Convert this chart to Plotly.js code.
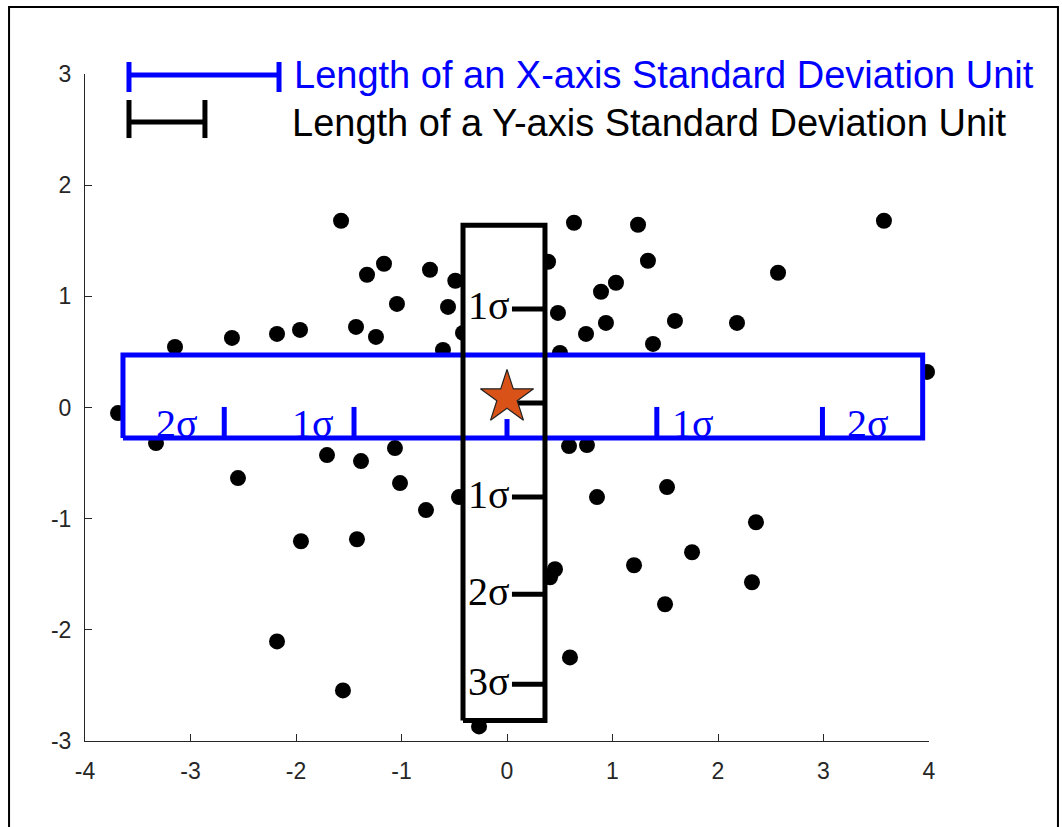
<!DOCTYPE html>
<html>
<head>
<meta charset="utf-8">
<script src="https://cdn.plot.ly/plotly-3.0.1.min.js"></script>
<style>html,body{margin:0;padding:0;background:#fff;}#chart{width:1062px;height:827px;}</style>
</head>
<body>
<div id="chart"></div>
<script>
// ---- data ----
const xVals = [-1.573, 0.635, 1.242, 3.573, 1.336, -1.166, -1.327, -0.730, 0.389, 2.569,
  1.033, 0.891, -1.043, -0.559, 0.483, 0.938, 1.592, 2.180, 0.749, -2.607,
  -2.180, -1.962, -1.431, -1.242, -0.417, 1.384, -0.607, 0.502, -3.147, 3.981,
  -3.687, -3.327, -1.062, 0.588, 0.758, -1.706, -1.384, -2.550, -1.014, 1.517,
  -0.455, 0.853, -0.768, 2.360, -1.953, -1.422, 1.754, 1.204, 0.455, 0.408,
  2.322, 1.498, -2.180, 0.597, -1.555, -0.265, -0.490];
const yVals = [1.680, 1.662, 1.644, 1.680, 1.320, 1.293, 1.194, 1.239, 1.311, 1.212,
  1.122, 1.041, 0.932, 0.905, 0.851, 0.761, 0.779, 0.761, 0.662, 0.626,
  0.662, 0.698, 0.725, 0.635, 0.671, 0.572, 0.518, 0.491, 0.545, 0.320,
  -0.050, -0.320, -0.365, -0.347, -0.338, -0.428, -0.482, -0.635, -0.680, -0.716,
  -0.806, -0.806, -0.923, -1.032, -1.203, -1.185, -1.302, -1.419, -1.455, -1.527,
  -1.572, -1.770, -2.104, -2.248, -2.545, -2.869, 1.140];

const starX = [0.0];
const starY = [0.09];

// box extents [x0, x1, y0, y1]
const blueBox = [-3.64, 3.94, -0.275, 0.473];
const blackBox = [-0.417, 0.36, -2.815, 1.64];

// x-axis standard-deviation marks (blue box)
const blueTickX = [-2.68, -1.45, 0.0, 1.42, 2.99];
const blueTickTop = [0.005, 0.005, -0.104, 0.005, 0.005];
const blueLabelX = [-3.13, -1.84, 1.76, 3.42];
const blueLabels = ['2σ', '1σ', '1σ', '2σ'];

// y-axis standard-deviation marks (black box)
const blackTickY = [0.887, 0.041, -0.806, -1.68, -2.49];
const blackTickLeft = 0.047;
const blackLabelY = [0.887, -0.806, -1.68, -2.49];
const blackLabels = ['1σ', '1σ', '2σ', '3σ'];

// legend bar lengths (data units on x)
const legendStart = -3.583;
const xSDLength = 1.422;
const ySDLength = 0.72;
const legendTexts = ['Length of an X-axis Standard Deviation Unit', 'Length of a Y-axis Standard Deviation Unit'];
const xTickVals = [-4, -3, -2, -1, 0, 1, 2, 3, 4];
const xTickText = ['-4', '-3', '-2', '-1', '0', '1', '2', '3', '4'];
const yTickVals = [-3, -2, -1, 0, 1, 2, 3];
const yTickText = ['-3', '-2', '-1', '0', '1', '2', '3'];

// ---- build ----
const BLUE = '#0000FF';
function rectPath(b) {
  return {x: [b[0], b[1], b[1], b[0], b[0]], y: [b[2], b[2], b[3], b[3], b[2]]};
}
const blk = rectPath(blackBox), blu = rectPath(blueBox);

const blueTicks = {x: [], y: []};
blueTickX.forEach((x, i) => { blueTicks.x.push(x, x, null); blueTicks.y.push(blueBox[2], blueTickTop[i], null); });
const blackTicks = {x: [], y: []};
blackTickY.forEach(y => { blackTicks.x.push(blackTickLeft, blackBox[1], null); blackTicks.y.push(y, y, null); });

const traces = [
  {x: xVals, y: yVals, type: 'scatter', mode: 'markers', marker: {color: '#000', size: 16}, cliponaxis: false},
  {x: blk.x, y: blk.y, type: 'scatter', mode: 'lines', fill: 'toself', fillcolor: '#fff', line: {width: 0, color: 'rgba(0,0,0,0)'}},
  {x: blu.x, y: blu.y, type: 'scatter', mode: 'lines', fill: 'toself', fillcolor: '#fff', line: {width: 0, color: 'rgba(0,0,0,0)'}},
  {x: blu.x, y: blu.y, type: 'scatter', mode: 'lines', line: {width: 5, color: BLUE}},
  {x: blueTicks.x, y: blueTicks.y, type: 'scatter', mode: 'lines', line: {width: 5, color: BLUE}},
  {x: blk.x, y: blk.y, type: 'scatter', mode: 'lines', line: {width: 5, color: '#000'}},
  {x: blackTicks.x, y: blackTicks.y, type: 'scatter', mode: 'lines', line: {width: 5, color: '#000'}},
  {x: starX, y: starY, type: 'scatter', mode: 'markers', marker: {symbol: 'star', size: 40, color: '#D95319', line: {color: '#222', width: 1.2}}, cliponaxis: false}
];

const annotations = [];
blueLabels.forEach((t, i) => annotations.push({
  x: blueLabelX[i], y: -0.14, xref: 'x', yref: 'y', text: t, showarrow: false,
  xanchor: 'center', yanchor: 'middle', font: {family: 'Liberation Serif, Times New Roman, serif', size: 40, color: BLUE}
}));
blackLabels.forEach((t, i) => annotations.push({
  x: blackTickLeft, y: blackLabelY[i], xref: 'x', yref: 'y', text: t, showarrow: false,
  xanchor: 'right', yanchor: 'middle', yshift: 3, font: {family: 'Liberation Serif, Times New Roman, serif', size: 40, color: '#000'}
}));
annotations.push({x: legendStart + xSDLength + 0.12, y: 0.999, xref: 'x', yref: 'paper', text: legendTexts[0], showarrow: false,
  xanchor: 'left', yanchor: 'middle', font: {family: 'Liberation Sans, Arial, sans-serif', size: 38, color: BLUE}});
annotations.push({x: legendStart + xSDLength + 0.10, y: 0.926, xref: 'x', yref: 'paper', text: legendTexts[1], showarrow: false,
  xanchor: 'left', yanchor: 'middle', font: {family: 'Liberation Sans, Arial, sans-serif', size: 38, color: '#000'}});

const shapes = [
  // legend: x-axis SD unit
  {type: 'line', xref: 'x', yref: 'paper', x0: legendStart, x1: legendStart + xSDLength, y0: 0.9985, y1: 0.9985, line: {color: BLUE, width: 5}},
  {type: 'line', xref: 'x', yref: 'paper', x0: legendStart, x1: legendStart, y0: 0.973, y1: 1.018, line: {color: BLUE, width: 5}},
  {type: 'line', xref: 'x', yref: 'paper', x0: legendStart + xSDLength, x1: legendStart + xSDLength, y0: 0.973, y1: 1.018, line: {color: BLUE, width: 5}},
  // legend: y-axis SD unit
  {type: 'line', xref: 'x', yref: 'paper', x0: legendStart, x1: legendStart + ySDLength, y0: 0.928, y1: 0.928, line: {color: '#000', width: 5}},
  {type: 'line', xref: 'x', yref: 'paper', x0: legendStart, x1: legendStart, y0: 0.904, y1: 0.961, line: {color: '#000', width: 5}},
  {type: 'line', xref: 'x', yref: 'paper', x0: legendStart + ySDLength, x1: legendStart + ySDLength, y0: 0.904, y1: 0.961, line: {color: '#000', width: 5}},
  // figure frame
  {type: 'rect', xref: 'paper', yref: 'paper', x0: -0.090, x1: 1.1528, y0: -0.2, y1: 1.1004, line: {color: '#000', width: 2}, fillcolor: 'rgba(0,0,0,0)'}
];

const axisCommon = {
  showgrid: false, zeroline: false, showline: true, linecolor: '#262626', linewidth: 1,
  ticks: 'inside', ticklen: 7, tickwidth: 1, tickcolor: '#262626', mirror: false,
  tickfont: {family: 'Liberation Sans, Arial, sans-serif', size: 23, color: '#262626'},
  tickmode: 'array', fixedrange: true
};

const layout = {
  width: 1062, height: 827,
  margin: {l: 85, r: 133, t: 74, b: 86, pad: 0},
  paper_bgcolor: '#fff', plot_bgcolor: '#fff',
  showlegend: false, hovermode: false,
  xaxis: Object.assign({}, axisCommon, {range: [-4, 4], tickvals: xTickVals, ticktext: xTickText, ticklabelstandoff: 9}),
  yaxis: Object.assign({}, axisCommon, {range: [-3, 3], tickvals: yTickVals, ticktext: yTickText, ticklabelstandoff: 8}),
  shapes: shapes,
  annotations: annotations
};

Plotly.newPlot('chart', traces, layout, {staticPlot: true, displayModeBar: false});
</script>
</body>
</html>
